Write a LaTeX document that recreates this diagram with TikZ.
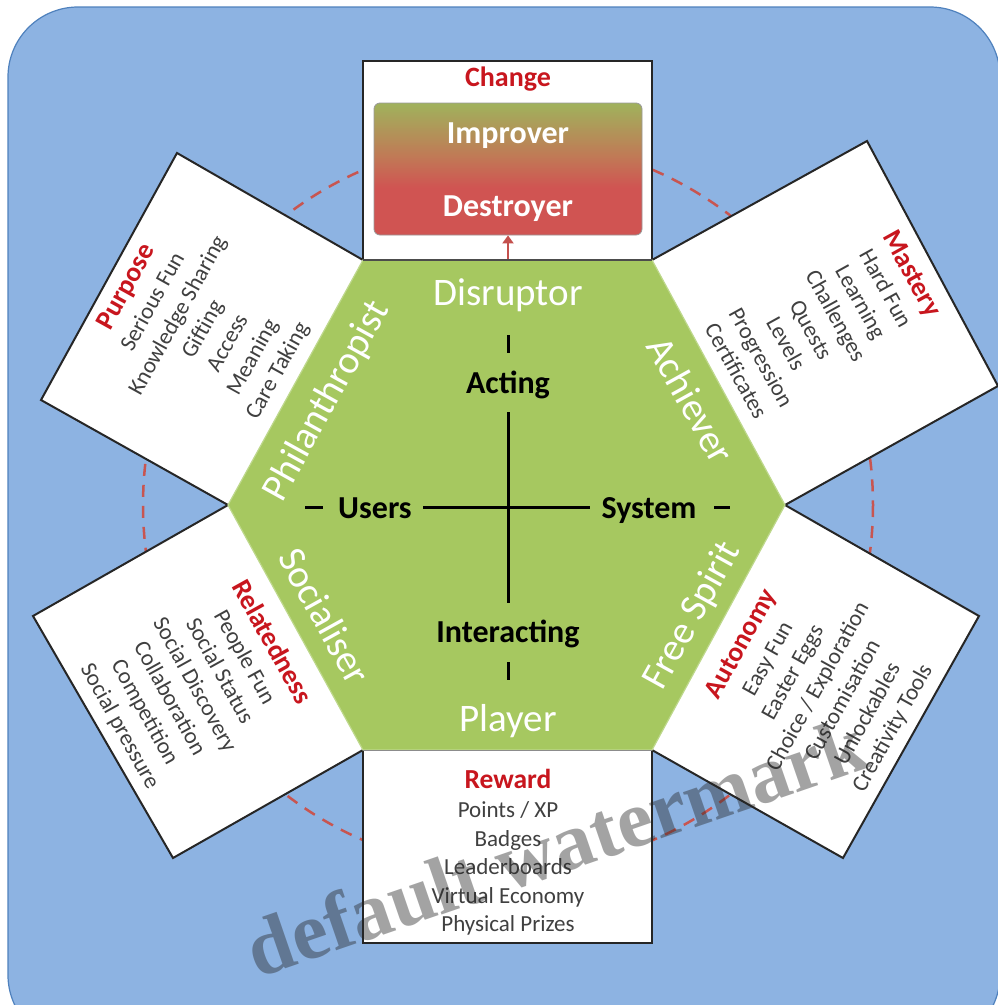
\documentclass[tikz,border=0pt]{standalone}
\usepackage{fontspec}
\setmainfont{Carlito}
\newfontfamily\wmfont{Liberation Serif}
\usetikzlibrary{arrows.meta}
\definecolor{bgblue}{RGB}{141,179,226}
\definecolor{bgedge}{RGB}{79,129,189}
\definecolor{hexgreen}{RGB}{166,200,96}
\definecolor{hexedge}{RGB}{190,216,140}
\definecolor{tred}{RGB}{200,22,30}
\definecolor{tgray}{RGB}{64,64,64}
\definecolor{dashred}{RGB}{200,85,80}
\definecolor{cred}{RGB}{208,84,82}
\definecolor{cmid}{RGB}{192,122,86}
\definecolor{cgreen}{RGB}{160,178,92}
\definecolor{arrred}{RGB}{196,80,77}
\pgfdeclareverticalshading{changeshade}{100bp}{color(0bp)=(cred); color(25bp)=(cred); color(43bp)=(cred); color(55bp)=(cmid); color(75bp)=(cgreen); color(100bp)=(cgreen)}
\begin{document}
\begin{tikzpicture}[x=1pt,y=-1pt,
  card/.style={fill=white},
  cardline/.style={draw=black!85,line width=2pt,line join=miter},
  role/.style={text=white,font=\fontsize{39}{44}\selectfont,inner sep=0pt},
  axislabel/.style={font=\fontsize{32}{36}\selectfont\bfseries,text=black,inner sep=0pt},
  axisline/.style={line width=3pt,draw=black},
  listtext/.style={text=tgray,align=center,font=\fontsize{23}{28.5}\selectfont,inner sep=0pt},
  changetext/.style={text=white,font=\fontsize{32}{36}\selectfont\bfseries,inner sep=0pt},
]
\useasboundingbox (0,0) rectangle (998,1005);
% background
\fill[bgblue,draw=bgedge,line width=1.2pt,rounded corners=70pt] (8,7) rectangle (1000,1045);
% dashed circle
\draw[dashred,line width=2.5pt,dash pattern=on 12pt off 9pt] (508,505) circle[radius=365];
% hexagon vertices
\coordinate (TL) at (363,260);
\coordinate (TR) at (652,260);
\coordinate (R) at (785,505);
\coordinate (BR) at (652,750);
\coordinate (BL) at (363,750);
\coordinate (L) at (228,505);
% cards
\coordinate (topA) at (363,61);  \coordinate (topB) at (652,61);
\coordinate (masA) at (867,141); \coordinate (masB) at (998,386);
\coordinate (purA) at (177,153); \coordinate (purB) at (41,400);
\coordinate (relA) at (33,616);  \coordinate (relB) at (173,858);
\coordinate (autA) at (979,616); \coordinate (autB) at (843,858);
\coordinate (rewA) at (363,943); \coordinate (rewB) at (652,943);
\fill[card] (TL) -- (topA) -- (topB) -- (TR) -- cycle;
\draw[cardline] (TL) -- (topA) -- (topB) -- (TR);
\fill[card] (TR) -- (masA) -- (masB) -- (R) -- cycle;
\draw[cardline] (TR) -- (masA) -- (masB) -- (R);
\fill[card] (TL) -- (purA) -- (purB) -- (L) -- cycle;
\draw[cardline] (TL) -- (purA) -- (purB) -- (L);
\fill[card] (L) -- (relA) -- (relB) -- (BL) -- cycle;
\draw[cardline] (L) -- (relA) -- (relB) -- (BL);
\fill[card] (R) -- (autA) -- (autB) -- (BR) -- cycle;
\draw[cardline] (R) -- (autA) -- (autB) -- (BR);
\fill[card] (BL) -- (rewA) -- (rewB) -- (BR) -- cycle;
\draw[cardline] (BL) -- (rewA) -- (rewB) -- (BR);
% hexagon
\fill[hexgreen,draw=hexedge,line width=1.2pt] (TL) -- (TR) -- (R) -- (BR) -- (BL) -- (L) -- cycle;
\draw[black!70,line width=1.5pt] (TL) -- (TR);
\draw[black!45,line width=1pt] (BL) -- (BR);
% change box
\node[text=tred,font=\fontsize{28}{32}\selectfont\bfseries,inner sep=0pt,anchor=base] (change) at (508,86) {Change};
\node[shade,shading=changeshade,draw=black!40,line width=0.8pt,rounded corners=6pt,minimum width=268pt,minimum height=132pt,inner sep=0pt] (chgbox) at (508,169) {};
\node[changetext,anchor=base] (improver) at (508,143) {Improver};
\node[changetext,anchor=base] (destroyer) at (508,216) {Destroyer};
\coordinate (hextop) at (508,259);
\draw[arrred,line width=2pt,-{Triangle[length=8pt,width=11pt]}] (hextop) -- (chgbox.south);
% role names
\node[role,anchor=base] (disruptor) at (508,305) {Disruptor};
\node[role,anchor=base] (player) at (508,731) {Player};
\node[role,rotate=61] (philanthropist) at (327,401) {Philanthropist};
\node[role,rotate=-61] (achiever) at (691,400) {Achiever};
\node[role,rotate=-61] (socialiser) at (325,616) {Socialiser};
\node[role,rotate=61] (freespirit) at (693,616) {Free Spirit};
% axes
\node[axislabel,anchor=base] (acting) at (508,393) {Acting};
\node[axislabel,anchor=base] (interacting) at (508,642) {Interacting};
\node[axislabel,anchor=base] (users) at (375,518) {Users};
\node[axislabel,anchor=base] (system) at (649,518) {System};
\coordinate (tTa) at (508,335); \coordinate (tTb) at (508,353);
\coordinate (tBa) at (508,662); \coordinate (tBb) at (508,680);
\coordinate (dLa) at (305,507); \coordinate (dLb) at (323,507);
\coordinate (dRa) at (714,507); \coordinate (dRb) at (730,507);
\coordinate (vA) at (508,412); \coordinate (vB) at (508,603);
\coordinate (hA) at (423,507); \coordinate (hB) at (590,507);
\draw[axisline] (tTa) -- (tTb);
\draw[axisline] (tBa) -- (tBb);
\draw[axisline] (dLa) -- (dLb);
\draw[axisline] (dRa) -- (dRb);
\draw[axisline] (vA) -- (vB);
\draw[axisline] (hA) -- (hB);
% card texts
\node[listtext,rotate=61] (purpose) at (202,329) {{\color{tred}\fontsize{27.5}{28.5}\selectfont\bfseries Purpose}\\[1pt] Serious Fun\\ Knowledge Sharing\\ Gifting\\ Access\\ Meaning\\ Care Taking};
\node[listtext,rotate=-61] (mastery) at (825,322) {{\color{tred}\fontsize{27.5}{28.5}\selectfont\bfseries Mastery}\\[1pt] Hard Fun\\ Learning\\ Challenges\\ Quests\\ Levels\\ Progression\\ Certificates};
\node[listtext,rotate=-61] (relatedness) at (196,684) {{\color{tred}\fontsize{27.5}{28.5}\selectfont\bfseries Relatedness}\\[1pt] People Fun\\ Social Status\\ Social Discovery\\ Collaboration\\ Competition\\ Social pressure};
\node[listtext,rotate=61] (autonomy) at (817,686) {{\color{tred}\fontsize{27.5}{28.5}\selectfont\bfseries Autonomy}\\[1pt] Easy Fun\\ Easter Eggs\\ Choice / Exploration\\ Customisation\\ Unlockables\\ Creativity Tools};
\node[listtext] (reward) at (508,852) {{\color{tred}\fontsize{27.5}{28.5}\selectfont\bfseries Reward}\\[1pt] Points / XP\\ Badges\\ Leaderboards\\ Virtual Economy\\ Physical Prizes};
% watermark
\node[rotate=19,font=\wmfont\bfseries\fontsize{81}{90}\selectfont,text=black!85,text opacity=0.42,inner sep=0pt] (wm) at (556,846) {default watermark};
\end{tikzpicture}
\end{document}
